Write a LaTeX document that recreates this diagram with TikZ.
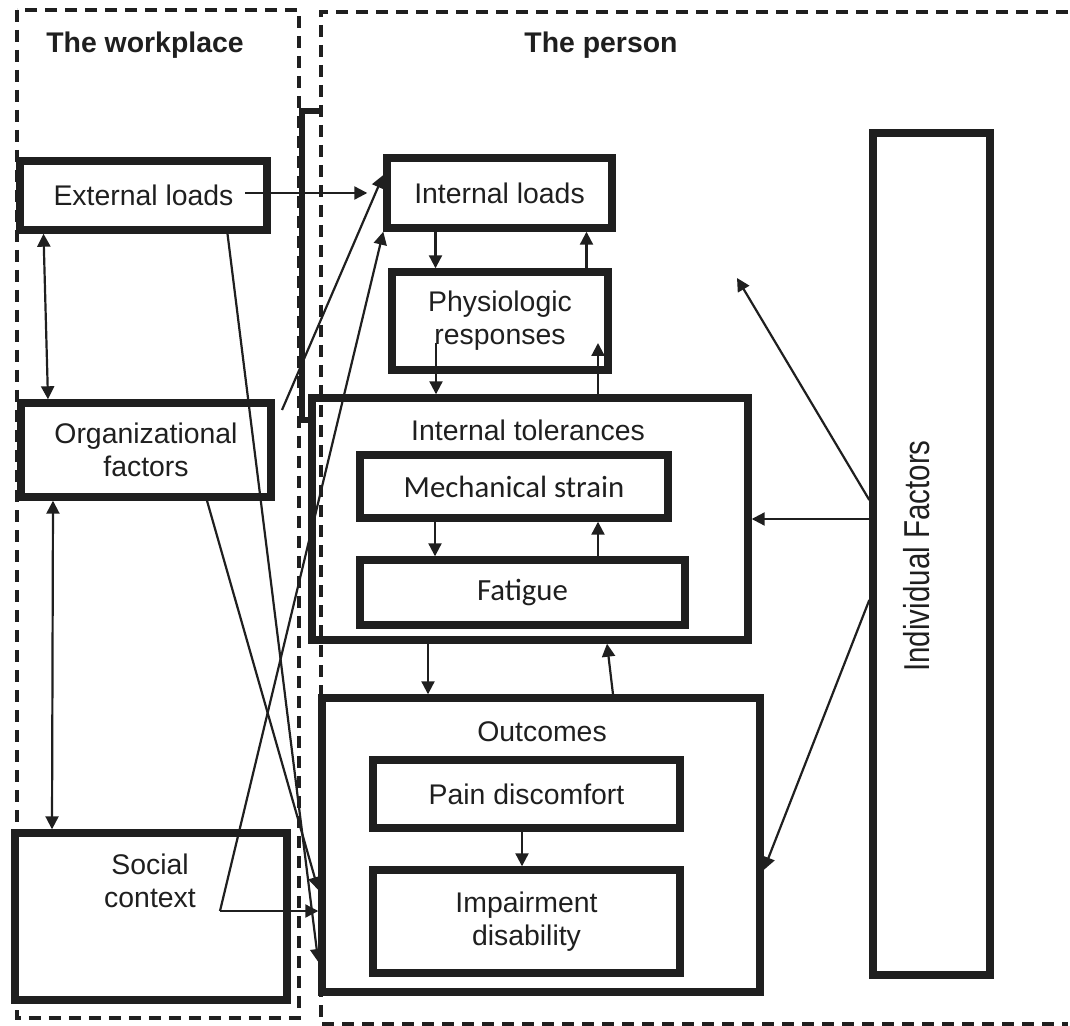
\documentclass[tikz,border=0pt]{standalone}
\usepackage{fontspec}
\setmainfont{Liberation Sans}
\newfontfamily\calfont{Carlito}
\newfontfamily\narrowfont[FakeStretch=0.82]{Liberation Sans}
\usepackage{tikz}
\usetikzlibrary{arrows.meta}

\tikzset{
  box/.style={draw=black!88, line width=3.7pt, align=center, inner sep=0pt, text=black!88},
  arr/.style={-{Triangle[length=6.5pt,width=6.5pt]}, line width=1.1pt, draw=black!88},
  twoway/.style={{Triangle[length=6.5pt,width=6.5pt]}-{Triangle[length=6.5pt,width=6.5pt]}, line width=1.1pt, draw=black!88},
  region/.style={dash pattern=on 6pt off 4pt, line width=1.6pt, draw=black!88},
  heading/.style={font=\fontsize{14.2}{16.5}\selectfont\bfseries, text=black!88},
}

\begin{document}
\begin{tikzpicture}[x=0.5pt, y=-0.5pt,
  every node/.append style={font=\fontsize{14.2}{16.5}\selectfont}]
\useasboundingbox (0,0) rectangle (1070,1026);

% the two regions
\draw[region] (17,10) rectangle (299,1018);
\draw[region] (1068,12) -- (321,12) -- (321,1024) -- (1068,1024);
\node[heading] (work) at (145,45) {The workplace};
\node[heading] (pers) at (601,45) {The person};
\draw[line width=3pt, draw=black!88] (322,111) -- (302,111) -- (302,420) -- (312,420);

% workplace
\node[box, minimum width=123.5pt, minimum height=34.5pt] (ext) at (143.5,195.5) {External loads};
\node[box, minimum width=125pt, minimum height=47pt] (org) at (146,450) {Organizational\\factors};
\node[box, minimum width=136pt, minimum height=83.5pt] (soc) at (151,916.5) {};
\node[text=black!88, align=center] (soctext) at (150,881) {Social\\context};

% the person
\node[box, minimum width=112.5pt, minimum height=35pt] (intl) at (499.5,193) {Internal loads};
\node[box, minimum width=108pt, minimum height=49pt] (phys) at (500,321) {Physiologic\\responses};
\node[box, minimum width=218pt, minimum height=121pt] (tol) at (530,519) {};
\node[text=black!88] (toltext) at (528,430) {Internal tolerances};
\node[box, minimum width=154pt, minimum height=31.5pt, font=\calfont\fontsize{15.4}{18}\selectfont] (mech) at (514,486.5) {Mechanical strain};
\node[box, minimum width=162.5pt, minimum height=32.5pt, font=\calfont\fontsize{15.4}{18}\selectfont] (fat) at (522.5,592.5) {Fatigue};
\node[box, minimum width=219pt, minimum height=147pt] (outc) at (541,845) {};
\node[text=black!88] (outctext) at (542,732) {Outcomes};
\node[box, minimum width=153.5pt, minimum height=34pt] (pain) at (526.5,794) {Pain discomfort};
\node[box, minimum width=153.5pt, minimum height=51.5pt] (imp) at (526.5,921.5) {Impairment\\disability};
\node[box, minimum width=58.5pt, minimum height=421pt] (indiv) at (931.5,554) {};
\node[text=black!88, rotate=90, font=\narrowfont\fontsize{18}{20}\selectfont] (indivtext) at (917,556) {Individual Factors};

% free ends
\coordinate (extout) at (245,193);
\coordinate (orgout) at (282,410);
\coordinate (socout) at (220,911);
\coordinate (indtip) at (737,278);

% workplace links
\draw[twoway] ([xshift=-50pt]ext.south) -- ([xshift=-49pt]org.north);
\draw[twoway] ([xshift=-46.5pt]org.south) -- ([xshift=-49.5pt]soc.north);
\draw[arr, shorten >=8pt] (extout) -- (intl.west);
\draw[arr] (orgout) -- ([yshift=9pt]intl.west);
\draw[arr] (socout) -- (intl.south west);
\draw[arr] (socout) -- (socout -| outc.west);
\draw[arr] ([xshift=42pt]ext.south) -- ([yshift=-58.5pt]outc.west);
\draw[arr] ([xshift=30.5pt]org.south) -- ([yshift=-22.5pt]outc.west);

% inside the person
\draw[arr] ([xshift=-32pt]intl.south) -- ([xshift=-32pt]intl.south |- phys.north);
\draw[arr] ([xshift=43.5pt]intl.south |- phys.north) -- ([xshift=43.5pt]intl.south);
\draw[arr] (436,343) -- (436,343 |- tol.north);
\draw[arr] (598,398 |- tol.north) -- (598,343);
\draw[arr] ([xshift=-39.5pt]mech.south) -- ([xshift=-39.5pt]mech.south |- fat.north);
\draw[arr] ([xshift=42pt]mech.south |- fat.north) -- ([xshift=42pt]mech.south);
\draw[arr] ([xshift=-51pt]tol.south) -- ([xshift=-51pt]tol.south |- outc.north);
\draw[arr] ([xshift=36pt]outc.north) -- ([xshift=38.5pt]tol.south);
\draw[arr] ([xshift=-2.25pt]pain.south) -- ([xshift=-2.25pt]imp.north);

% individual factors
\draw[arr] ([yshift=27pt]indiv.west) -- (indtip);
\draw[arr] (tol.east -| indiv.west) -- (tol.east);
\draw[arr] ([yshift=-23pt]indiv.west) -- ([yshift=-12.5pt]outc.east);
\end{tikzpicture}
\end{document}
